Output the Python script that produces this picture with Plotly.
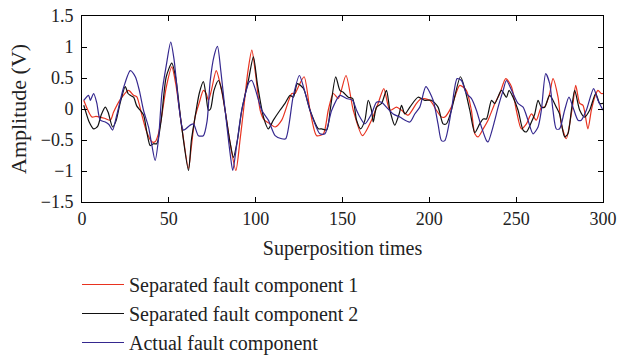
import plotly.graph_objects as go

# Separated fault component 1 (red)
sep1_x = [1, 5.7, 8, 10.5, 13, 16.3, 18.2, 22, 26.8, 29.7, 31.5, 34.5, 37, 40.2, 42.1, 44, 46, 48.5,
          51.7, 54, 58, 61.3, 63, 65.1, 67.5, 69.9, 71.5, 72.8, 74.5, 77.3, 80, 82.4, 85, 88.6, 91, 93,
          95.5, 97.8, 100, 102.6, 105, 108.3, 111.2, 115, 120.8, 122.6, 124.6, 127.9, 131.3, 135.1,
          139, 141.8, 144.7, 147.6, 152, 156.2, 161.5, 166.7, 170.5, 173.8, 177.3, 181.1, 184, 187.8,
          192.6, 195.5, 200.3, 204.1, 207, 208.9, 212.7, 217.5, 221.3, 224.2, 226.2, 228.1, 231, 233.8,
          237.7, 240.6, 244, 247.3, 250.1, 253, 255.9, 258.8, 261.6, 264.5, 266.4, 269.3, 271.2, 274.1,
          276, 278.9, 280.8, 282.7, 284.3, 286.6, 288.5, 291.3, 293.3, 295.2, 297.1, 299, 300]
sep1_y = [0.14, -0.13, -0.12, -0.13, -0.15, -0.18, -0.05, 0.15, 0.30, 0.22, 0.20, -0.10, -0.35, -0.53,
          -0.53, -0.40, -0.10, 0.35, 0.68, 0.40, -0.40, -0.96, -0.60, -0.13, 0.10, 0.30, 0.25, 0.14,
          0.30, 0.62, 0.35, -0.02, -0.50, -0.99, -0.50, -0.02, 0.60, 0.95, 0.55, -0.02, -0.18, -0.24,
          -0.29, -0.18, 0.25, 0.25, 0.36, 0.52, -0.02, -0.43, -0.40, -0.02, 0.25, 0.17, 0.54, -0.02,
          -0.43, -0.18, 0.09, 0.33, -0.02, 0.03, -0.02, -0.10, 0.09, 0.17, 0.14, -0.02, -0.13, -0.13,
          0.03, 0.38, 0.30, -0.02, -0.40, -0.45, -0.32, -0.18, 0.09, 0.25, 0.49, 0.36, -0.02, -0.32,
          -0.24, -0.08, -0.18, 0.03, 0.03, 0.25, 0.49, 0.19, -0.24, -0.48, -0.24, 0.09, 0.38, 0.09,
          0.06, -0.32, -0.02, 0.19, 0.30, 0.25, 0.25]

# Separated fault component 2 (black)
sep2_x = [1, 1.9, 4, 6.7, 9, 11, 13.4, 15, 17.6, 19.5, 22, 24.9, 26.5, 27.8, 29.7, 31.5, 33.5, 35.5,
          37.5, 39.3, 41.2, 43, 45.5, 48.5, 51.7, 54, 57, 61.3, 63, 65.1, 67.5, 69.9, 71.5, 72.8, 74,
          76, 78.6, 80.5, 82.4, 85, 87.2, 89.5, 92, 95.8, 98.7, 101, 104.5, 107.3, 110.2, 114, 116.9,
          119.8, 121.7, 124, 127.5, 131.3, 136.1, 138, 140.9, 143, 146.1, 148.5, 150.4, 153.3, 155.8,
          158.1, 160.4, 162.9, 164.8, 166.7, 167.7, 169.6, 172.5, 175.3, 177.3, 180.1, 182.6, 184,
          185.9, 188.8, 193.5, 197.4, 201.2, 205, 207.9, 209.8, 212.7, 217.9, 220.4, 223.3, 226.2, 229,
          231, 232.9, 235.8, 237.7, 241.5, 244.4, 245.9, 248.2, 251.1, 254, 255.9, 258.8, 260.7, 262.6,
          264.5, 266.4, 269.3, 273.1, 275, 277.9, 279.8, 281.8, 283.7, 286.6, 289.4, 292.3, 295.8,
          298.1, 300]
sep2_y = [0.06, -0.02, -0.20, -0.32, -0.28, -0.10, 0.03, -0.05, -0.29, -0.20, 0.10, 0.36, 0.25, 0.22,
          0.19, 0.05, -0.02, -0.10, -0.40, -0.59, -0.56, -0.56, -0.20, 0.52, 0.74, 0.50, -0.20, -0.99,
          -0.50, -0.13, 0.25, 0.44, 0.20, -0.02, 0.00, 0.30, 0.46, 0.30, -0.02, -0.50, -0.78, -0.50,
          -0.02, 0.46, 0.84, 0.40, -0.13, -0.32, -0.18, -0.02, 0.09, 0.22, 0.19, 0.41, 0.33, -0.02,
          -0.32, -0.32, -0.34, 0.00, 0.52, 0.30, 0.27, 0.19, 0.17, -0.18, -0.32, -0.18, 0.14, -0.02,
          -0.21, 0.03, 0.09, 0.30, -0.02, -0.26, -0.08, 0.06, -0.08, 0.03, 0.19, 0.14, 0.14, 0.03,
          -0.24, -0.24, -0.02, 0.52, 0.33, -0.02, -0.38, -0.24, -0.16, -0.16, 0.14, 0.09, 0.30, 0.19,
          0.30, 0.19, -0.02, -0.34, -0.37, -0.21, -0.08, 0.14, 0.03, 0.03, 0.22, 0.03, -0.08, -0.45,
          -0.40, -0.02, 0.30, -0.02, -0.13, -0.02, 0.25, 0.09, 0.09]

# Actual fault component (blue)
act_x = [1, 3.8, 4.8, 6.7, 8.5, 10.5, 13.4, 15.5, 17.6, 20, 24, 27.8, 30.7, 33, 35.4, 38.3, 40, 42.1,
         44, 46, 48.5, 51.1, 53, 56, 58.4, 62.3, 64.2, 67, 69.9, 72, 73.8, 76, 78, 80, 82.4, 85.3,
         86.8, 89, 92, 96.4, 97.8, 100, 103.5, 107.3, 111.2, 115, 117.3, 121.7, 125.2, 127.5, 131.3,
         137, 139.9, 143.8, 148.5, 152.3, 155.8, 158.1, 160, 162.9, 166.7, 169.6, 172.5, 175.3, 179.2,
         183, 188.8, 191.6, 194.5, 198, 202.2, 205, 207, 208.9, 212.7, 216, 218.5, 221.3, 224.2, 227.1,
         230, 232.9, 233.8, 237.7, 239.6, 242.5, 244.4, 248.2, 251.1, 254, 256.8, 259.7, 262.6, 264.5,
         267, 269.3, 271.2, 273.1, 275, 277.9, 280.4, 282.7, 285.6, 287.5, 290.4, 294.6, 297.1, 300]
act_y = [0.14, 0.22, 0.14, 0.25, 0.10, -0.18, -0.21, -0.25, -0.34, -0.10, 0.35, 0.62, 0.52, 0.30,
         -0.02, -0.29, -0.55, -0.83, -0.50, 0.25, 0.70, 1.08, 0.80, 0.00, -0.34, -0.26, -0.24, -0.43,
         -0.43, -0.20, 0.45, 0.85, 1.01, 0.60, -0.02, -0.72, -0.99, -0.60, -0.02, 0.44, 0.46, 0.30,
         -0.02, -0.18, -0.43, -0.48, -0.48, 0.22, 0.54, 0.36, -0.02, -0.40, -0.40, -0.02, 0.22, 0.17,
         0.14, -0.02, -0.13, -0.24, -0.08, 0.11, 0.11, 0.03, -0.08, -0.13, -0.21, -0.08, 0.03, 0.36,
         0.14, -0.24, -0.51, -0.51, -0.02, 0.49, 0.46, 0.25, 0.17, -0.02, -0.29, -0.51, -0.53, -0.18,
         0.03, 0.30, 0.46, 0.25, 0.09, 0.03, -0.18, -0.40, -0.29, -0.02, 0.57, 0.41, -0.02, -0.32,
         -0.32, -0.02, 0.19, 0.03, -0.18, -0.18, -0.02, 0.33, 0.14, -0.02]

x_ticks = [0, 50, 100, 150, 200, 250, 300]
y_ticks = [-1.5, -1, -0.5, 0, 0.5, 1, 1.5]

FONT = "Liberation Serif"
TXT = "#222222"

fig = go.Figure()
series = [
    ("Separated fault component 1", sep1_x, sep1_y, "#e8321f"),
    ("Separated fault component 2", sep2_x, sep2_y, "#111111"),
    ("Actual fault component", act_x, act_y, "#35288f"),
]
for i, (name, xs, ys, col) in enumerate(series):
    fig.add_trace(go.Scatter(
        x=xs, y=ys, mode="lines", name=name,
        line=dict(color=col, width=1.2, shape="spline", smoothing=0.7),
    ))

axis_common = dict(
    showline=True, linecolor="black", linewidth=1, mirror="ticks",
    ticks="inside", ticklen=5, tickcolor="black", tickwidth=1,
    showgrid=False, zeroline=False, automargin=True,
    tickfont=dict(family=FONT, size=18, color=TXT),
)

fig.update_layout(
    width=621, height=355,
    margin=dict(l=82, r=18, t=16, b=153, autoexpand=False),
    paper_bgcolor="white", plot_bgcolor="white",
    font=dict(family=FONT, size=18, color=TXT),
    xaxis=dict(range=[0, 300], tickvals=x_ticks,
               title=dict(text="Superposition times", font=dict(family=FONT, size=20, color=TXT), standoff=13),
               **axis_common),
    yaxis=dict(range=[-1.5, 1.5], tickvals=y_ticks, ticklabelstandoff=4,
               **axis_common),
    annotations=[dict(text="Amplitude (V)", xref="paper", yref="paper", x=(18 - 82) / 521, y=0.5,
                      xanchor="center", yanchor="middle", textangle=-90, showarrow=False,
                      font=dict(family=FONT, size=22, color=TXT))],
    showlegend=True,
    legend=dict(xref="container", yref="container", x=77 / 621, y=1 - 265 / 355,
                xanchor="left", yanchor="top",
                font=dict(family=FONT, size=20, color=TXT),
                tracegroupgap=0, itemwidth=42, bgcolor="rgba(0,0,0,0)"),
)

fig.write_html("out.html", config={"displayModeBar": False},
               post_script="document.body.style.margin='0px';")
